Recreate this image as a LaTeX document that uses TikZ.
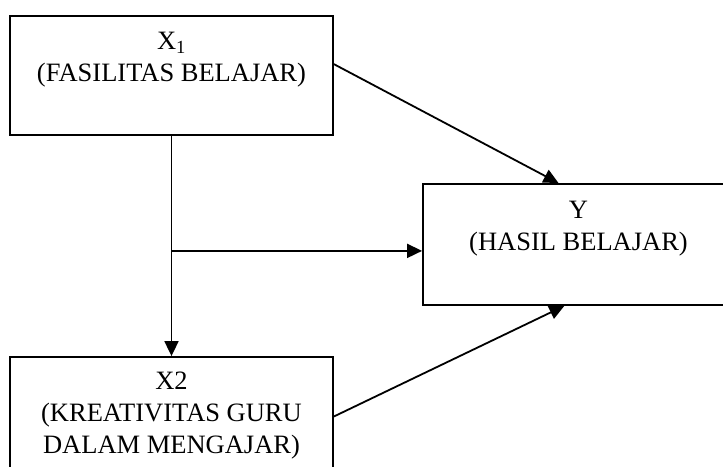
\documentclass[tikz,border=0pt]{standalone}
\usepackage{fontspec}
\setmainfont{Liberation Serif}
\usetikzlibrary{arrows.meta,positioning}

\begin{document}
\begin{tikzpicture}[x=1pt,y=1pt,
    box/.style={draw,line width=1.8pt,inner sep=0pt},
    lbl/.style={align=center,inner sep=0pt,font=\fontsize{26.5}{32}\selectfont},
    arr/.style={line width=1.8pt,-{Triangle[length=15pt,width=14pt]}}]
    \clip (0,0) rectangle (723,466);
    \node[box,minimum width=323pt,minimum height=119pt] (x1) at (171.5,390.5) {};
    \node[box,minimum width=311pt,minimum height=121pt] (y) at (578.5,221.5) {};
    \node[box,minimum width=323pt,minimum height=119pt] (x2) at (171.5,49.5) {};
    \node[lbl,below=17pt of x1.north] (x1txt) {X\textsubscript{1}\\(FASILITAS BELAJAR)};
    \node[lbl,below=18pt of y.north] (ytxt) {Y\\(HASIL BELAJAR)};
    \node[lbl,below=16pt of x2.north] (x2txt) {X2\\(KREATIVITAS GURU\\DALAM MENGAJAR)};
    \path (x1.south) ++(0,-115) coordinate (branch);
    \draw[arr] (x1.4) -- (y.108);
    \draw[arr] (x1.south) -- (x2.north);
    \draw[arr] (branch) -- (branch -| y.west);
    \draw[arr] (x2.east) -- (y.257);
\end{tikzpicture}
\end{document}
